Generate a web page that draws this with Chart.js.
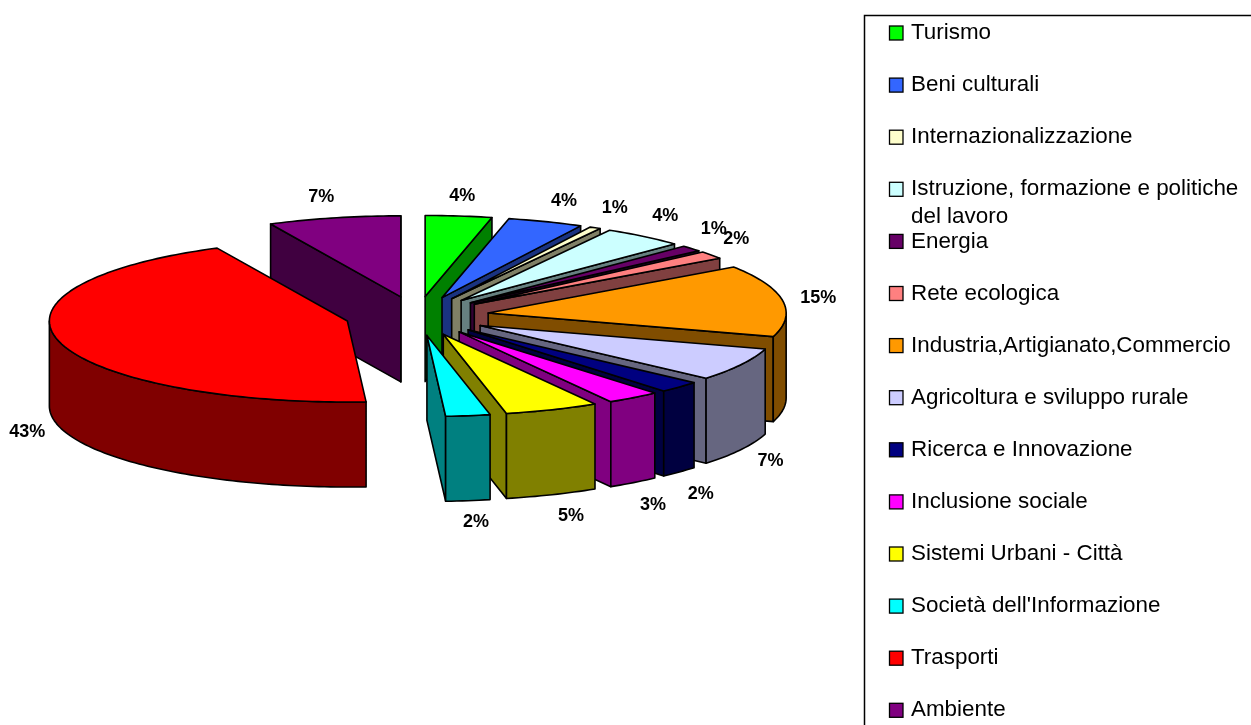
<!DOCTYPE html>
<html><head><meta charset="utf-8">
<style>html,body{margin:0;padding:0;background:#fff}canvas{display:block}</style>
<script src="https://cdn.jsdelivr.net/npm/chart.js@4"></script>
</head><body>
<canvas id="c" width="1251" height="725"></canvas>
<script>
const categories = ["Turismo","Beni culturali","Internazionalizzazione","Istruzione, formazione e politiche\ndel lavoro","Energia","Rete ecologica","Industria,Artigianato,Commercio","Agricoltura e sviluppo rurale","Ricerca e Innovazione","Inclusione sociale","Sistemi Urbani - Città","Società dell'Informazione","Trasporti","Ambiente"];
const shares = [3.6,4.1,0.6,4.4,1.2,1.5,14.3,6.6,2.3,2.9,5.1,2.4,43.8,7.2];
const percentLabels = ["4%","4%","1%","4%","1%","2%","15%","7%","2%","3%","5%","2%","43%","7%"];
const topColors = ["#00FF00","#3366FF","#FFFFCC","#CCFFFF","#660066","#FF8080","#FF9900","#CCCCFF","#000080","#FF00FF","#FFFF00","#00FFFF","#FF0000","#800080"];
const sideColors = ["#008000","#1A3380","#808066","#668080","#330033","#804040","#804D00","#666680","#000040","#800080","#808000","#008080","#800000","#400040"];

const SQUASH = 0.272, DEPTH = 85, EXPLODE = 72;
const labelGap = 30;
const labelNudges = [[0,-12],[8,-13],[5,-13],[3,-14],[0,-14],[1,-11],[6,-1],[3,8],[0,16],[2,16],[8,14],[4,13],[-3,3],[-6,-13]];

function sliceGeom(arc){
  const off = EXPLODE, R = arc.outerRadius;
  const h = (arc.startAngle+arc.endAngle)/2;
  const cy = arc.y;
  const ax = arc.x + Math.cos(h)*off, ay = cy + Math.sin(h)*off*SQUASH;
  const pt = (a,d=0)=>[ax+R*Math.cos(a), ay+R*Math.sin(a)*SQUASH+d];
  return {off,R,h,ax,ay,pt,start:arc.startAngle,end:arc.endAngle};
}
function poly(ctx,pts,fill){
  ctx.beginPath();
  pts.forEach((p,i)=> i?ctx.lineTo(p[0],p[1]):ctx.moveTo(p[0],p[1]));
  ctx.closePath();
  if(fill){ctx.fillStyle=fill;ctx.fill();}
  ctx.stroke();
}
function arcPts(g,a0,a1,d){
  const n=Math.max(2,Math.ceil((a1-a0)*g.R/6)),o=[];
  for(let i=0;i<=n;i++) o.push(g.pt(a0+(a1-a0)*i/n,d));
  return o;
}
const pie3d = {
  id:'pie3d',
  beforeDatasetDraw(){return false;},
  afterDatasetsDraw(chart){
    const ctx=chart.ctx, meta=chart.getDatasetMeta(0);
    const order=meta.data.map((a,i)=>i).sort((p,q)=>{
      const hp=(meta.data[p].startAngle+meta.data[p].endAngle)/2,hq=(meta.data[q].startAngle+meta.data[q].endAngle)/2;
      return Math.sin(hp)-Math.sin(hq);
    });
    ctx.save();
    ctx.lineWidth=1.6;ctx.strokeStyle='#000';ctx.lineJoin='round';
    order.forEach(i=>{
      const arc=meta.data[i], g=sliceGeom(arc), side=sideColors[i];
      const A=[g.ax,g.ay], Ad=[g.ax,g.ay+DEPTH];
      if(Math.cos(g.start)<0) poly(ctx,[A,g.pt(g.start),g.pt(g.start,DEPTH),Ad],side);
      if(Math.cos(g.end)>0) poly(ctx,[A,g.pt(g.end),g.pt(g.end,DEPTH),Ad],side);
      const a0=Math.max(g.start,0),a1=Math.min(g.end,Math.PI);
      if(a1>a0) poly(ctx,arcPts(g,a0,a1,0).concat(arcPts(g,a0,a1,DEPTH).reverse()),side);
      ctx.save();
      ctx.translate(g.ax,g.ay);ctx.scale(1,SQUASH);ctx.translate(-arc.x,-arc.y);
      arc.draw(ctx);
      ctx.restore();
      poly(ctx,[A].concat(arcPts(g,g.start,g.end,0)));
    });
    ctx.restore();
    // percentage labels
    ctx.save();
    ctx.font='bold 18px "Liberation Sans"';ctx.fillStyle='#000';ctx.textAlign='center';ctx.textBaseline='middle';
    meta.data.forEach((arc,i)=>{
      const g=sliceGeom(arc),c=Math.cos(g.h),s=Math.sin(g.h);
      const x=g.ax+(g.R+labelGap)*c+labelNudges[i][0], y=g.ay+(g.R+labelGap)*s*SQUASH+(s>0?DEPTH:0)+labelNudges[i][1];
      ctx.fillText(percentLabels[i],x,y);
    });
    ctx.restore();
  },
  afterDraw(chart){
    const ctx=chart.ctx;
    ctx.save();
    ctx.strokeStyle='#000';ctx.lineWidth=1.5;
    ctx.beginPath();ctx.moveTo(1251,15.5);ctx.lineTo(864.5,15.5);ctx.lineTo(864.5,725);ctx.stroke();
    ctx.font='22.4px "Liberation Sans"';ctx.textBaseline='middle';ctx.textAlign='left';
    categories.forEach((name,i)=>{
      const y=33+52.1*i;
      ctx.fillStyle=topColors[i];ctx.lineWidth=1.3;
      ctx.fillRect(889.5,y-7,13.5,14);ctx.strokeRect(889.5,y-7,13.5,14);
      ctx.fillStyle='#000';
      name.split('\n').forEach((ln,k)=>ctx.fillText(ln,911,y+k*28));
    });
    ctx.restore();
  }
};
new Chart(document.getElementById('c'),{
  type:'pie',
  data:{labels:categories,datasets:[{data:shares,backgroundColor:topColors,borderWidth:0,radius:298}]},
  options:{
    responsive:false,animation:false,
    layout:{padding:{left:0,top:0,right:417,bottom:93}},
    plugins:{legend:{display:false},tooltip:{enabled:false}}
  },
  plugins:[pie3d]
});
</script>
</body></html>
